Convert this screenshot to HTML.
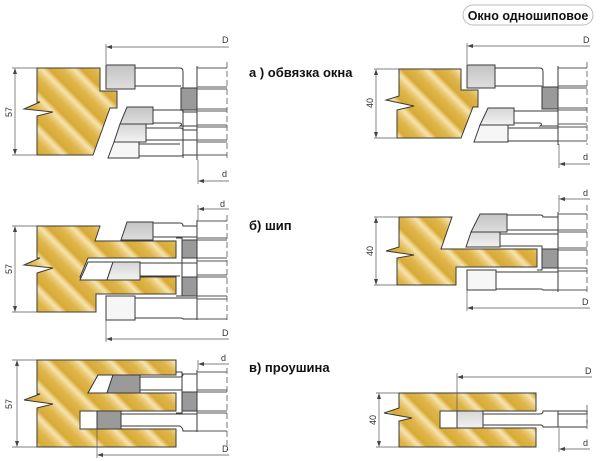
<!DOCTYPE html>
<html><head><meta charset="utf-8"><style>
html,body{margin:0;padding:0;background:#fff;}
svg{display:block;}
text{font-family:"Liberation Sans",sans-serif;}
.lbl{font-weight:bold;font-size:13px;fill:#111;}
.dim{font-size:9px;fill:#333;}
</style></head><body>
<svg width="600" height="461" viewBox="0 0 600 461" xmlns="http://www.w3.org/2000/svg">
<defs>
<linearGradient id="w" gradientUnits="userSpaceOnUse" x1="0" y1="20" x2="16" y2="4" spreadMethod="repeat">
<stop offset="0" stop-color="#d8aa36"/>
<stop offset="0.4" stop-color="#dfb64c"/>
<stop offset="0.6" stop-color="#ebcb78"/>
<stop offset="0.78" stop-color="#f6e4b0"/>
<stop offset="0.9" stop-color="#e9c874"/>
<stop offset="1" stop-color="#d8aa36"/>
</linearGradient>
<linearGradient id="g1" x1="0" y1="0" x2="0" y2="1"><stop offset="0" stop-color="#c4c4c4"/><stop offset="1" stop-color="#dedede"/></linearGradient>
<linearGradient id="g2" x1="0" y1="0" x2="0" y2="1"><stop offset="0" stop-color="#d6d6d6"/><stop offset="1" stop-color="#f2f2f2"/></linearGradient>
</defs>
<g stroke="#3a3a3a" stroke-width="1">
<rect x="463" y="5" width="130" height="20" rx="10" fill="#fff" stroke="#bbb"/>
</g>
<text x="528" y="20" text-anchor="middle" class="lbl" style="font-size:12.5px">Окно одношиповое</text>

<text x="249" y="77" class="lbl">а ) обвязка окна</text>
<text x="249" y="230" class="lbl">б) шип</text>
<text x="249" y="372" class="lbl">в) проушина</text>

<g stroke="#3a3a3a" stroke-width="1" fill="none">
<!-- ================= PANEL A LEFT ================= -->
<polygon fill="url(#w)" points="37,68 100,68 100,91 117,91 117,108 110,108 93,155 37,155 37,116 53,112 24,109 40,102 37,102"/>
<g stroke="#555" stroke-width="0.7">
<line x1="12" y1="68" x2="37" y2="68"/><line x1="12" y1="155" x2="37" y2="155"/>
<line x1="15" y1="70" x2="15" y2="153"/>
</g>
<path d="M15,68 l-2,6 h4z M15,155 l-2,-6 h4z" fill="#444" stroke="none"/>
<rect x="197" y="66" width="30" height="116" fill="#fff" stroke="none"/>
<line x1="197" y1="66" x2="197" y2="160"/>
<line x1="227" y1="62" x2="227" y2="160" stroke-dasharray="6,3" stroke="#777"/>
<g stroke="#555">
<line x1="197" y1="68" x2="227" y2="68"/><line x1="197" y1="87" x2="227" y2="87"/><line x1="197" y1="89" x2="227" y2="89"/>
<line x1="197" y1="109" x2="227" y2="109"/><line x1="197" y1="111" x2="227" y2="111"/>
<line x1="197" y1="125" x2="227" y2="125"/><line x1="197" y1="127" x2="227" y2="127"/>
<line x1="197" y1="140" x2="227" y2="140"/><line x1="197" y1="142" x2="227" y2="142"/>
<line x1="197" y1="155" x2="227" y2="155"/>
</g>
<path d="M135,68 H180 Q183,68 183,72 V88 M135,86 H181" />
<rect x="181" y="88" width="16" height="22" fill="#9a9a9a"/>
<path d="M153,110 H180 Q183,110 183,112 H197 M153,123 H180 Q183,124 180,126 H197"/>
<path d="M146,128 H180 Q183,128 183,130 H197 M146,140 H197"/>
<path d="M139,144 H180 M139,156 H180 Q183,156 183,155 H197"/>
<line x1="183" y1="110" x2="183" y2="158"/>
<rect x="106" y="65" width="29" height="24" fill="url(#g1)"/>
<polygon points="127,107 153,107 153,124 120,124" fill="url(#g1)"/>
<polygon points="120,124 146,124 146,142 114,142" fill="url(#g2)"/>
<polygon points="114,142 139,142 139,158 108,158" fill="#f6f6f6"/>
<g stroke="#555" stroke-width="0.7">
<line x1="106" y1="44" x2="106" y2="64"/>
<line x1="108" y1="47" x2="229" y2="47"/>
<line x1="198" y1="160" x2="198" y2="184"/>
<line x1="200" y1="181" x2="229" y2="181"/>
</g>
<path d="M106,47 l6,-2 v4z M198,181 l6,-2 v4z" fill="#444" stroke="none"/>

<!-- ================= PANEL B LEFT ================= -->
<polygon fill="url(#w)" points="37,226 100,226 95,241 176,241 176,258 88,258 80,277 176,277 176,294 96,294 96,312 37,312 37,273 53,268 24,265 40,258 37,258"/>
<g stroke="#555" stroke-width="0.7">
<line x1="12" y1="226" x2="37" y2="226"/><line x1="12" y1="312" x2="37" y2="312"/>
<line x1="15" y1="228" x2="15" y2="310"/>
</g>
<path d="M15,226 l-2,6 h4z M15,312 l-2,-6 h4z" fill="#444" stroke="none"/>
<path d="M176,238 H182 V296 H176" />
<rect x="197" y="220" width="30" height="100" fill="#fff" stroke="none"/>
<line x1="197" y1="220" x2="197" y2="320"/>
<line x1="227" y1="215" x2="227" y2="322" stroke-dasharray="6,3" stroke="#777"/>
<g stroke="#555">
<line x1="197" y1="221" x2="227" y2="221"/><line x1="197" y1="238" x2="227" y2="238"/><line x1="197" y1="240" x2="227" y2="240"/>
<line x1="197" y1="258" x2="227" y2="258"/><line x1="197" y1="261" x2="227" y2="261"/>
<line x1="197" y1="275" x2="227" y2="275"/><line x1="197" y1="277" x2="227" y2="277"/>
<line x1="197" y1="296" x2="227" y2="296"/><line x1="197" y1="299" x2="227" y2="299"/><line x1="197" y1="319" x2="227" y2="319"/>
</g>
<path d="M153,223 H180 Q183,223 183,226 H197 M153,237 H197"/>
<path d="M140,263 H197 M140,276 H180"/>
<path d="M135,298 H197 M135,318 H180 Q183,318 183,319 H197"/>
<rect x="182" y="240" width="15" height="18" fill="#9a9a9a"/>
<rect x="182" y="277" width="15" height="19" fill="#9a9a9a"/>
<polygon points="127,222 153,222 153,240 121,240" fill="url(#g1)"/>
<polygon points="88,262 113,262 107,280 80,280" fill="#fff"/>
<polygon points="113,262 140,262 140,280 107,280" fill="url(#g2)"/>
<rect x="106" y="296" width="29" height="24" fill="#f6f6f6"/>
<g stroke="#555" stroke-width="0.7">
<line x1="198" y1="205" x2="198" y2="220"/><line x1="200" y1="209" x2="229" y2="209"/>
<line x1="106" y1="320" x2="106" y2="342"/><line x1="108" y1="339" x2="229" y2="339"/>
</g>
<path d="M198,209 l6,-2 v4z M106,339 l6,-2 v4z" fill="#444" stroke="none"/>

<!-- ================= PANEL C LEFT ================= -->
<polygon fill="url(#w)" points="37,360 176,360 176,375 98,375 88,393 176,393 176,411 80,411 80,429 176,429 176,447 37,447 37,408 53,404 24,400 40,394 37,394"/>
<g stroke="#555" stroke-width="0.7">
<line x1="12" y1="360" x2="37" y2="360"/><line x1="12" y1="447" x2="37" y2="447"/>
<line x1="17" y1="362" x2="17" y2="445"/>
</g>
<path d="M17,360 l-2,6 h4z M17,447 l-2,-6 h4z" fill="#444" stroke="none"/>
<path d="M176,372 H182 V413 H176" />
<rect x="197" y="370" width="30" height="62" fill="#fff" stroke="none"/>
<line x1="197" y1="370" x2="197" y2="432"/>
<line x1="227" y1="368" x2="227" y2="450" stroke-dasharray="6,3" stroke="#777"/>
<g stroke="#555">
<line x1="197" y1="372" x2="227" y2="372"/><line x1="197" y1="390" x2="227" y2="390"/><line x1="197" y1="392" x2="227" y2="392"/>
<line x1="197" y1="411" x2="227" y2="411"/><line x1="197" y1="413" x2="227" y2="413"/><line x1="197" y1="431" x2="227" y2="431"/>
</g>
<path d="M140,377 H180 Q183,377 183,374 H197 M140,390 H182"/>
<path d="M121,414 H180 Q183,414 183,414 H197 M121,426 H180 Q183,428 183,431 H197"/>
<rect x="182" y="392" width="15" height="19" fill="#9a9a9a"/>
<polygon points="98,375 113,375 107,393 88,393" fill="#fff"/>
<polygon points="113,375 140,375 140,393 107,393" fill="#9a9a9a"/>
<rect x="80" y="411" width="17" height="18" fill="#fff"/>
<rect x="97" y="411" width="24" height="18" fill="#9a9a9a"/>
<g stroke="#555" stroke-width="0.7">
<line x1="198" y1="360" x2="198" y2="370"/><line x1="200" y1="364" x2="229" y2="364"/>
<line x1="97" y1="429" x2="97" y2="458"/><line x1="99" y1="455" x2="229" y2="455"/>
</g>
<path d="M198,364 l6,-2 v4z M97,455 l6,-2 v4z" fill="#444" stroke="none"/>

<!-- ================= PANEL A RIGHT ================= -->
<polygon fill="url(#w)" points="399,69 461,69 461,90 478,90 478,107 473,107 461,138 397,138 397,110 414,106 386,100 399,96 399,94"/>
<g stroke="#555" stroke-width="0.7">
<line x1="374" y1="69" x2="399" y2="69"/><line x1="374" y1="138" x2="397" y2="138"/>
<line x1="376" y1="71" x2="376" y2="136"/>
</g>
<path d="M376,69 l-2,6 h4z M376,138 l-2,-6 h4z" fill="#444" stroke="none"/>
<rect x="558" y="66" width="29" height="78" fill="#fff" stroke="none"/>
<line x1="558" y1="66" x2="558" y2="145"/>
<line x1="587" y1="62" x2="587" y2="145" stroke-dasharray="6,3" stroke="#777"/>
<g stroke="#555">
<line x1="558" y1="68" x2="587" y2="68"/><line x1="558" y1="86" x2="587" y2="86"/><line x1="558" y1="88" x2="587" y2="88"/>
<line x1="558" y1="108" x2="587" y2="108"/><line x1="558" y1="110" x2="587" y2="110"/>
<line x1="558" y1="124" x2="587" y2="124"/><line x1="558" y1="127" x2="587" y2="127"/><line x1="558" y1="141" x2="587" y2="141"/>
</g>
<path d="M495,68 H540 Q543,68 543,72 V88 M495,86 H542"/>
<path d="M514,111 H558 M514,123 H540 Q543,124 540,126 H558"/>
<path d="M508,128 H558 M508,141 H558"/>
<rect x="542" y="87" width="16" height="22" fill="#9a9a9a"/>
<rect x="467" y="65" width="28" height="23" fill="url(#g1)"/>
<polygon points="488,108 514,108 514,125 480,125" fill="url(#g2)"/>
<polygon points="480,125 508,125 508,142 474,142" fill="#f6f6f6"/>
<g stroke="#555" stroke-width="0.7">
<line x1="467" y1="43" x2="467" y2="64"/><line x1="469" y1="46" x2="590" y2="46"/>
<line x1="559" y1="144" x2="559" y2="168"/><line x1="561" y1="164" x2="590" y2="164"/>
</g>
<path d="M467,46 l6,-2 v4z M559,164 l6,-2 v4z" fill="#444" stroke="none"/>

<!-- ================= PANEL B RIGHT ================= -->
<polygon fill="url(#w)" points="399,217 452,217 441,249 537,249 537,267 456,267 456,285 397,285 397,258 414,255 386,251 399,247 399,245"/>
<g stroke="#555" stroke-width="0.7">
<line x1="374" y1="217" x2="399" y2="217"/><line x1="374" y1="285" x2="397" y2="285"/>
<line x1="376" y1="219" x2="376" y2="283"/>
</g>
<path d="M376,217 l-2,6 h4z M376,285 l-2,-6 h4z" fill="#444" stroke="none"/>
<path d="M537,246 H542 V270 H537"/>
<rect x="558" y="212" width="29" height="80" fill="#fff" stroke="none"/>
<line x1="558" y1="212" x2="558" y2="292"/>
<line x1="587" y1="205" x2="587" y2="295" stroke-dasharray="6,3" stroke="#777"/>
<g stroke="#555">
<line x1="558" y1="214" x2="587" y2="214"/><line x1="558" y1="230" x2="587" y2="230"/><line x1="558" y1="232" x2="587" y2="232"/>
<line x1="558" y1="248" x2="587" y2="248"/><line x1="558" y1="250" x2="587" y2="250"/>
<line x1="558" y1="268" x2="587" y2="268"/><line x1="558" y1="271" x2="587" y2="271"/><line x1="558" y1="290" x2="587" y2="290"/>
</g>
<path d="M506,215 H540 Q543,215 543,217 H558 M506,230 H558"/>
<path d="M500,234 H558 M500,246 H540"/>
<path d="M496,272 H558 M496,289 H540 Q543,289 543,290 H558"/>
<rect x="542" y="249" width="16" height="19" fill="#9a9a9a"/>
<polygon points="480,214 507,214 507,232 471,232" fill="url(#g1)"/>
<polygon points="471,232 500,232 500,247 466,247" fill="url(#g2)"/>
<rect x="467" y="270" width="29" height="20" fill="#f6f6f6"/>
<g stroke="#555" stroke-width="0.7">
<line x1="559" y1="195" x2="559" y2="212"/><line x1="561" y1="199" x2="590" y2="199"/>
<line x1="467" y1="290" x2="467" y2="311"/><line x1="469" y1="308" x2="590" y2="308"/>
</g>
<path d="M559,199 l6,-2 v4z M467,308 l6,-2 v4z" fill="#444" stroke="none"/>

<!-- ================= PANEL C RIGHT ================= -->
<polygon fill="url(#w)" points="399,393 536,393 536,411 440,411 440,428 536,428 536,447 399,447 399,421 412,418 384,413 399,408 399,406"/>
<g stroke="#555" stroke-width="0.7">
<line x1="376" y1="393" x2="399" y2="393"/><line x1="376" y1="447" x2="399" y2="447"/>
<line x1="379" y1="395" x2="379" y2="445"/>
</g>
<path d="M379,393 l-2,6 h4z M379,447 l-2,-6 h4z" fill="#444" stroke="none"/>
<path d="M483,414 H540 Q543,414 543,411 H558 M483,425 H540 Q543,425 543,427 H558"/>
<rect x="558" y="411" width="29" height="16" fill="#fff"/>
<line x1="558" y1="414" x2="587" y2="414"/>
<line x1="587" y1="405" x2="587" y2="432" stroke-dasharray="6,3" stroke="#777"/>
<rect x="440" y="411" width="17" height="17" fill="#fff"/>
<rect x="457" y="411" width="26" height="17" fill="url(#g2)"/>
<g stroke="#555" stroke-width="0.7">
<line x1="457" y1="373" x2="457" y2="411"/><line x1="459" y1="377" x2="592" y2="377"/>
<line x1="559" y1="428" x2="559" y2="452"/><line x1="561" y1="449" x2="590" y2="449"/>
</g>
<path d="M457,377 l6,-2 v4z M559,449 l6,-2 v4z" fill="#444" stroke="none"/>
</g>

<g class="dim">
<text x="222" y="43" class="dim">D</text>
<text x="222" y="177" class="dim">d</text>
<text x="220" y="207" class="dim">d</text>
<text x="222" y="336" class="dim">D</text>
<text x="221" y="361" class="dim">d</text>
<text x="222" y="452" class="dim">D</text>
<text x="583" y="43" class="dim">D</text>
<text x="583" y="160" class="dim">d</text>
<text x="583" y="196" class="dim">d</text>
<text x="582" y="305" class="dim">D</text>
<text x="585" y="374" class="dim">D</text>
<text x="583" y="446" class="dim">d</text>
</g>
<text transform="translate(12,112) rotate(-90)" text-anchor="middle" class="dim">57</text>
<text transform="translate(12,269) rotate(-90)" text-anchor="middle" class="dim">57</text>
<text transform="translate(12,404) rotate(-90)" text-anchor="middle" class="dim">57</text>
<text transform="translate(373,103) rotate(-90)" text-anchor="middle" class="dim">40</text>
<text transform="translate(373,251) rotate(-90)" text-anchor="middle" class="dim">40</text>
<text transform="translate(376,420) rotate(-90)" text-anchor="middle" class="dim">40</text>
</svg>
</body></html>
